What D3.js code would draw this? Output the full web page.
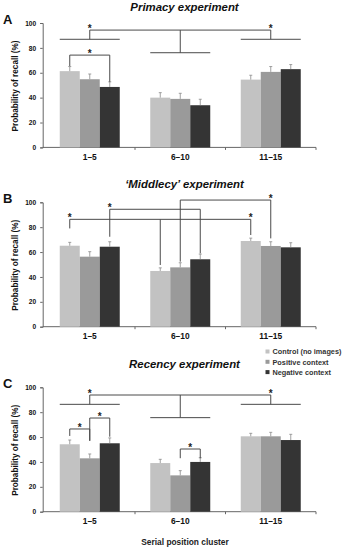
<!DOCTYPE html>
<html>
<head>
<meta charset="utf-8">
<script src="https://cdn.jsdelivr.net/npm/d3@7"></script>
<style>
body { margin: 0; background: #fff; }
text { font-family: "Liberation Sans", Arial, sans-serif; }
</style>
</head>
<body>
<div id="chart"></div>
<script>
var groups = ["1–5", "6–10", "11–15"];
var series = ["Control (no images)", "Positive context", "Negative context"];
var yTicks = [0, 20, 40, 60, 80, 100];

// values are [series][group]
var primacyValues = [[61.3, 40, 54.5], [54.8, 39, 60.7], [48.6, 33.9, 62.9]];
var primacyErrors = [[3.7, 4, 3.5], [4.2, 4.5, 4.3], [4.1, 4.8, 3.7]];
var middlecyValues = [[65.1, 44.8, 68.9], [56.3, 47.7, 64.9], [64.3, 54.2, 63.8]];
var middlecyErrors = [[2.7, 2.5, 2.3], [4, 3.7, 3.4], [4, 4.2, 3.7]];
var recencyValues = [[54.2, 39.1, 60.6], [42.9, 29.2, 60.6], [55, 40, 57.6]];
var recencyErrors = [[3.4, 3, 2.4], [3.5, 3.8, 3.2], [4.3, 3.4, 4.6]];

// significance brackets: top level, legs (group, bar, bottom level), star positions
var primacyBrackets = [
	{top: 94.3, legs: [{g: 0, to: 86.9}, {g: 1, to: 76.1}, {g: 2, to: 86.9}], stars: [0, 2]},
	{top: 74.2, legs: [{g: 0, b: 0, to: 65.4}, {g: 0, b: 2, to: 52.7}], stars: ["mid"]}
];
var middlecyBrackets = [
	{top: 86.3, legs: [{g: 0, b: 0, to: 79}, {g: 1, b: 0, to: 49.6}, {g: 2, b: 0, to: 73.7}], stars: [0, 2]},
	{top: 94.4, legs: [{g: 0, b: 2, to: 72.3}, {g: 1, b: 2, to: 59}], stars: [0]},
	{top: 101.8, legs: [{g: 1, b: 1, to: 52.3}, {g: 2, b: 1, to: 71}], stars: [1]}
];
var recencyBrackets = [
	{top: 93.8, legs: [{g: 0, to: 86.3}, {g: 1, to: 75.6}, {g: 2, to: 86.3}], stars: [0, 2]},
	{top: 66.5, legs: [{g: 0, b: 0, to: 60.9}, {g: 0, b: 1, to: 57}], stars: ["mid"]},
	{top: 75.3, legs: [{g: 0, b: 1, to: 57}, {g: 0, b: 2, to: 60.3}], stars: ["mid"]},
	{top: 50.4, legs: [{g: 1, b: 1, to: 43}, {g: 1, b: 2, to: 43}], stars: ["mid"]}
];

var colors = ["#c2c2c2", "#9a9a9a", "#343434"];
var axisColor = "#666";
var lineColor = "#4a4a4a";

var svg = d3.select("#chart").append("svg")
	.attr("width", 345)
	.attr("height", 550);

var x0 = d3.scaleBand().domain(groups).range([44.5, 316]);
var x1 = d3.scaleBand().domain(d3.range(series.length)).range([-30, 30]);

function barX(g, b) {
	var c = x0(groups[g]) + x0.bandwidth() / 2;
	if (b === undefined) return c;
	return c + x1(b) + x1.bandwidth() / 2;
}

var panels = [
	{letter: "A", title: "Primacy experiment", top: 23, titleY: 11, values: primacyValues, errors: primacyErrors, brackets: primacyBrackets},
	{letter: "B", title: "\u2018Middlecy\u2019 experiment", top: 202.3, titleY: 188.3, values: middlecyValues, errors: middlecyErrors, brackets: middlecyBrackets},
	{letter: "C", title: "Recency experiment", top: 387.3, titleY: 368.3, values: recencyValues, errors: recencyErrors, brackets: recencyBrackets}
];

panels.forEach(function(p) {
	var y = d3.scaleLinear().domain([0, 100]).range([p.top + 124.4, p.top]);
	var g = svg.append("g");

	// Title and panel letter
	g.append("text")
		.text(p.title)
		.attr("x", 184.5)
		.attr("y", p.titleY)
		.attr("text-anchor", "middle")
		.style("font-size", "11.4px")
		.style("font-weight", "bold")
		.style("font-style", "italic")
		.attr("fill", "#111");
	g.append("text")
		.text(p.letter)
		.attr("x", 3)
		.attr("y", p.top + 0.5)
		.style("font-size", "13px")
		.style("font-weight", "bold")
		.attr("fill", "#111");

	// Y axis
	var yAxis = g.append("g")
		.attr("transform", "translate(42.7,0)")
		.call(d3.axisLeft(y).tickValues(yTicks).tickSize(2.5).tickPadding(4));
	yAxis.select(".domain").attr("stroke", axisColor);
	yAxis.selectAll(".tick line").attr("stroke", axisColor);
	yAxis.selectAll(".tick text")
		.style("font-size", "6.6px")
		.style("font-weight", "bold")
		.style("font-family", "Liberation Sans, Arial, sans-serif")
		.attr("fill", "#111");

	g.append("text")
		.text("Probability of recall  (%)")
		.attr("transform", "translate(17.5," + (p.top + 63) + ") rotate(-90)")
		.attr("text-anchor", "middle")
		.style("font-size", "8.2px")
		.style("font-weight", "bold")
		.attr("fill", "#111");

	// X axis
	var xAxis = g.append("g")
		.attr("transform", "translate(0," + y(0) + ")");
	xAxis.append("line")
		.attr("x1", 42.7)
		.attr("x2", x0.range()[1])
		.attr("stroke", axisColor);
	xAxis.selectAll(".xtick")
		.data(groups)
		.enter().append("line")
		.attr("x1", function(d) { return x0(d) + x0.step(); })
		.attr("x2", function(d) { return x0(d) + x0.step(); })
		.attr("y1", 0)
		.attr("y2", 2.5)
		.attr("stroke", axisColor);
	xAxis.selectAll(".xlabel")
		.data(groups)
		.enter().append("text")
		.text(function(d) { return d; })
		.attr("x", function(d, i) { return barX(i); })
		.attr("y", 12.7)
		.attr("text-anchor", "middle")
		.style("font-size", "8.4px")
		.style("font-weight", "bold")
		.attr("fill", "#111");

	// Bars
	p.values.forEach(function(vals, s) {
		g.selectAll(".bar" + s)
			.data(vals)
			.enter().append("rect")
			.attr("x", function(d, i) { return barX(i) + x1(s); })
			.attr("y", function(d) { return y(d); })
			.attr("width", x1.bandwidth())
			.attr("height", function(d) { return y(0) - y(d); })
			.attr("fill", colors[s]);

		// Error bars, upper whisker only
		var err = g.selectAll(".err" + s)
			.data(vals)
			.enter().append("g");
		err.append("line")
			.attr("x1", function(d, i) { return barX(i, s); })
			.attr("x2", function(d, i) { return barX(i, s); })
			.attr("y1", function(d) { return y(d); })
			.attr("y2", function(d, i) { return y(d + p.errors[s][i]); })
			.attr("stroke", "#8a8a8a")
			.attr("stroke-width", 0.8);
		err.append("line")
			.attr("x1", function(d, i) { return barX(i, s) - 1.5; })
			.attr("x2", function(d, i) { return barX(i, s) + 1.5; })
			.attr("y1", function(d, i) { return y(d + p.errors[s][i]); })
			.attr("y2", function(d, i) { return y(d + p.errors[s][i]); })
			.attr("stroke", "#8a8a8a")
			.attr("stroke-width", 0.8);
	});

	// Significance brackets
	p.brackets.forEach(function(br) {
		var xs = br.legs.map(function(l) { return barX(l.g, l.b); });
		g.append("line")
			.attr("x1", d3.min(xs))
			.attr("x2", d3.max(xs))
			.attr("y1", y(br.top))
			.attr("y2", y(br.top))
			.attr("stroke", lineColor);
		br.legs.forEach(function(l, i) {
			g.append("line")
				.attr("x1", xs[i])
				.attr("x2", xs[i])
				.attr("y1", y(br.top))
				.attr("y2", y(l.to))
				.attr("stroke", lineColor);
			if (l.b === undefined) {
				// branch across the whole cluster
				g.append("line")
					.attr("x1", xs[i] + x1.range()[0])
					.attr("x2", xs[i] + x1.range()[1])
					.attr("y1", y(l.to))
					.attr("y2", y(l.to))
					.attr("stroke", lineColor);
			}
		});
		br.stars.forEach(function(st) {
			var sx = (st === "mid") ? (xs[0] + xs[xs.length - 1]) / 2 : xs[st];
			g.append("text")
				.text("*")
				.attr("x", sx)
				.attr("y", y(br.top) + 2)
				.attr("text-anchor", "middle")
				.style("font-size", "10px")
				.style("font-weight", "bold")
				.attr("fill", "#222");
		});
	});
});

// Legend
var legend = svg.append("g").attr("class", "legend");
series.forEach(function(s, i) {
	legend.append("rect")
		.attr("x", 265.5)
		.attr("y", 349.5 + i * 10.3)
		.attr("width", 4)
		.attr("height", 4)
		.attr("fill", colors[i]);
	legend.append("text")
		.text(s)
		.attr("x", 272.5)
		.attr("y", 354.2 + i * 10.3)
		.style("font-size", "7.3px")
		.style("font-weight", "bold")
		.attr("fill", "#333");
});

svg.append("text")
	.text("Serial position cluster")
	.attr("x", 185)
	.attr("y", 544.5)
	.attr("text-anchor", "middle")
	.style("font-size", "8.4px")
	.style("font-weight", "bold")
	.attr("fill", "#222");
</script>
</body>
</html>
